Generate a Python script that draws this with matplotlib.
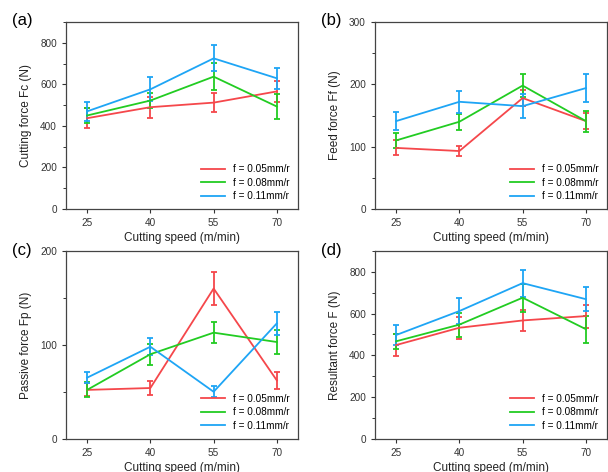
import matplotlib
matplotlib.use("Agg")
import matplotlib.pyplot as plt
from matplotlib.ticker import MultipleLocator
from matplotlib.lines import Line2D

plt.rcParams['font.family'] = ['Liberation Sans', 'DejaVu Sans']

# Datos
velocidad = [25, 40, 55, 70]
etiquetas = ["f = 0.05mm/r", "f = 0.08mm/r", "f = 0.11mm/r"]
colores = ["#f5474b", "#22cc22", "#1ea5f5"]

fc_medias = [[437, 490, 512, 566], [450, 522, 637, 493], [470, 576, 725, 629]]
fc_error = [[48, 51, 46, 50], [36, 36, 66, 62], [47, 58, 62, 52]]

ff_medias = [[98, 93, 178, 141], [110, 140, 198, 141], [141, 172, 165, 194]]
ff_error = [[12, 8, 13, 13], [12, 13, 19, 17], [14, 18, 19, 22]]

fp_medias = [[52, 54, 160, 62], [52, 90, 113, 103], [65, 98, 50, 123]]
fp_error = [[7, 7, 18, 9], [8, 11, 11, 13], [6, 9, 6, 12]]

fr_medias = [[449, 532, 567, 588], [467, 547, 676, 525], [497, 612, 746, 669]]
fr_error = [[51, 52, 51, 55], [37, 57, 67, 65], [48, 61, 65, 57]]

paneles = [
    ("(a)", "Cutting force Fc (N)", fc_medias, fc_error, 900, 200, 100),
    ("(b)", "Feed force Ff (N)", ff_medias, ff_error, 300, 100, 50),
    ("(c)", "Passive force Fp (N)", fp_medias, fp_error, 200, 100, 50),
    ("(d)", "Resultant force F (N)", fr_medias, fr_error, 900, 200, 100),
]

W, H = 608, 472
# posiciones de los ejes en pixeles (izq, arriba, der, abajo)
cajas = [(66, 22, 298, 209), (375, 22, 607, 209),
         (66, 251, 298, 438.7), (375, 251, 607, 438.7)]

fig = plt.figure(figsize=(W / 100, H / 100), dpi=100)

for (letra, ylabel, medias, errores, ymax, mayor, menor), (x0, y0, x1, y1) in zip(paneles, cajas):
    ax = fig.add_axes([x0 / W, 1 - y1 / H, (x1 - x0) / W, (y1 - y0) / H])
    for m, e, c in zip(medias, errores, colores):
        ax.errorbar(velocidad, m, yerr=e, color=c, linewidth=1.3,
                    elinewidth=1.3, capsize=2.5, capthick=1.3)
    ax.set_xlim(20, 75)
    ax.set_ylim(0, ymax)
    ax.set_xticks(velocidad)
    ax.yaxis.set_major_locator(MultipleLocator(mayor))
    ax.yaxis.set_minor_locator(MultipleLocator(menor))
    ax.tick_params(direction="out", length=3, width=0.8, labelsize=7.2,
                   colors="#333333", labelcolor="#333333")
    ax.tick_params(which="minor", direction="out", length=2, width=0.7, colors="#333333")
    for s in ax.spines.values():
        s.set_color("#444444")
        s.set_linewidth(0.9)
    ax.set_xlabel("Cutting speed (m/min)", fontsize=8.5, color="#222222", labelpad=3)
    ax.set_ylabel(ylabel, fontsize=8.5, color="#222222", labelpad=6)
    # leyenda solo con lineas (sin barras de error)
    lineas = [Line2D([0], [0], color=c, linewidth=1.3) for c in colores]
    ax.legend(lineas, etiquetas, loc="lower right", frameon=False, fontsize=7.2,
              handlelength=2.4, labelspacing=0.35, borderaxespad=0.4)
    fig.text((x0 - 54) / W, 1 - (y0 - 1) / H, letra, fontsize=12, ha="left", va="center")

plt.savefig("out.png", dpi=100)
